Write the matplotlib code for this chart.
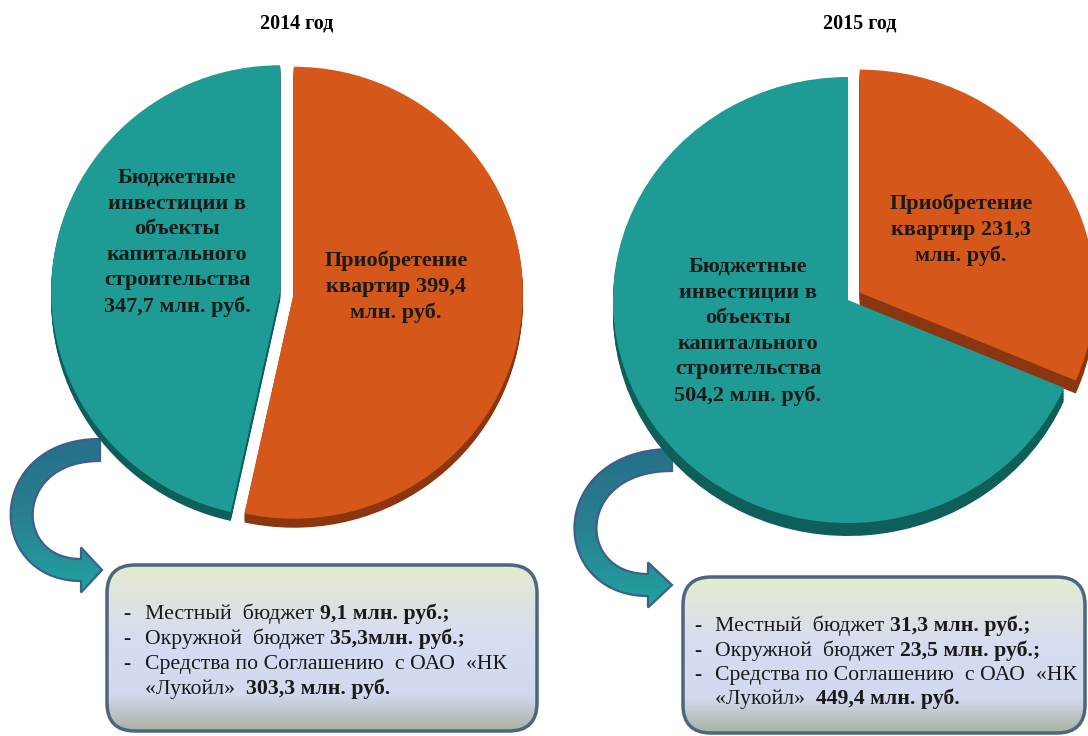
import numpy as np
import matplotlib
matplotlib.use("Agg")
import matplotlib.pyplot as plt
from matplotlib.patches import FancyBboxPatch, Polygon
from matplotlib.colors import LinearSegmentedColormap

# ---------------- data ----------------
years = ["2014 год", "2015 год"]
flats = [399.4, 231.3]            # Приобретение квартир
capital = [347.7, 504.2]          # Бюджетные инвестиции в объекты капитального строительства
local_budget = [9.1, 31.3]
district_budget = [35.3, 23.5]
lukoil_funds = [303.3, 449.4]
district_sep = ["", " "]

def fmt(v):
    return f"{v:.1f}".replace(".", ",")

# ---------------- figure ----------------
W, H = 1088, 736
fig = plt.figure(figsize=(W / 100, H / 100), dpi=100)
fig.patch.set_facecolor("white")
SERIF = ["Liberation Serif", "DejaVu Serif"]

main = fig.add_axes([0, 0, 1, 1])
main.set_xlim(0, W)
main.set_ylim(H, 0)
main.axis("off")

TEAL, TEAL_D = "#1f9b96", "#0e5e5a"
ORANGE, ORANGE_D = "#d5581a", "#8a3610"

def ftext(x, y, s, **kw):
    return fig.text(x / W, 1 - y / H, s, **kw)

# ---------------- pies ----------------
pie_geom = [  # cx, cy, rx, ry, depth, explode
    (287, 292, 229, 226, 9, (0.03, 0.03)),
    (848, 300, 235, 223, 13, (0.06, 0.0)),
]
for i, (cx, cy, rx, ry, depth, expl) in enumerate(pie_geom):
    m = 1.25
    ax = fig.add_axes([(cx - m * rx) / W, (H - cy - m * ry) / H, 2 * m * rx / W, 2 * m * ry / H])
    vals = [flats[i], capital[i]]
    n = 8
    for k in range(n, 0, -1):
        d = depth / ry * k / n
        ax.pie(vals, colors=[ORANGE_D, TEAL_D], startangle=90, counterclock=False,
               explode=expl, center=(0, -d), wedgeprops=dict(linewidth=0))
    ax.pie(vals, colors=[ORANGE, TEAL], startangle=90, counterclock=False,
           explode=expl, wedgeprops=dict(linewidth=0))
    ax.set_xlim(-m, m)
    ax.set_ylim(-m, m)
    ax.set_aspect("auto")
    ax.axis("off")

# titles
ftext(297, 23, years[0], ha="center", va="center", fontsize=14.5, fontweight="bold", family=SERIF)
ftext(860, 23, years[1], ha="center", va="center", fontsize=14.5, fontweight="bold", family=SERIF)

# pie labels
lab_kw = dict(ha="center", va="center", fontsize=16, fontweight="bold", family=SERIF,
              linespacing=1.38, color="#1a1a1a")
ftext(177, 242, "Бюджетные\nинвестиции в\nобъекты\nкапитального\nстроительства\n"
      f"{fmt(capital[0])} млн. руб.", **lab_kw)
ftext(396, 287, f"Приобретение\nквартир {fmt(flats[0])}\nмлн. руб.", **lab_kw)
ftext(748, 331, "Бюджетные\nинвестиции в\nобъекты\nкапитального\nстроительства\n"
      f"{fmt(capital[1])} млн. руб.", **lab_kw)
ftext(961, 230, f"Приобретение\nквартир {fmt(flats[1])}\nмлн. руб.", **lab_kw)

# ---------------- curved arrows ----------------
arrow_cmap = LinearSegmentedColormap.from_list("arr", ["#276f8a", "#2a7f90", "#1fa3a0"])

def curved_arrow(P, width, head_w, head_len):
    P = np.asarray(P, float)
    t = np.linspace(0, 1, 120)[:, None]
    B = ((1 - t) ** 3) * P[0] + 3 * ((1 - t) ** 2) * t * P[1] + 3 * (1 - t) * t ** 2 * P[2] + t ** 3 * P[3]
    dB = 3 * ((1 - t) ** 2) * (P[1] - P[0]) + 6 * (1 - t) * t * (P[2] - P[1]) + 3 * t ** 2 * (P[3] - P[2])
    T = dB / np.linalg.norm(dB, axis=1, keepdims=True)
    N = np.column_stack([-T[:, 1], T[:, 0]])
    left = B + N * width / 2
    right = B - N * width / 2
    tE, nE = T[-1], N[-1]
    base = P[3]
    tip = base + tE * head_len
    hl = base + nE * head_w / 2
    hr = base - nE * head_w / 2
    verts = np.vstack([left, hl, tip, hr, right[::-1]])
    poly = Polygon(verts, closed=True, facecolor="none", edgecolor="#3d5f8a",
                   linewidth=1.6, zorder=4, joinstyle="miter")
    main.add_patch(poly)
    x0, y0 = verts.min(axis=0)
    x1, y1 = verts.max(axis=0)
    g = np.linspace(0, 1, 128).reshape(-1, 1)
    im = main.imshow(g, cmap=arrow_cmap, extent=(x0, x1, y1, y0), origin="upper",
                     aspect="auto", zorder=3, interpolation="bilinear")
    im.set_clip_path(poly)

curved_arrow([(100, 450), (-1, 450), (-1, 570), (81, 570)], 22, 45, 21)
curved_arrow([(672, 460), (561, 460), (561, 585), (648, 585)], 22, 45, 24)

# ---------------- boxes ----------------
cmap = LinearSegmentedColormap.from_list(
    "box", [(0.0, "#e4ebcf"), (0.45, "#d6dcf2"), (0.78, "#d2d8ee"), (1.0, "#a7b3a0")])
grad = np.linspace(0, 1, 256).reshape(-1, 1)

boxes = [(107, 565, 537, 731), (683, 577, 1085, 733)]
for (x0, y0, x1, y1) in boxes:
    patch = FancyBboxPatch((x0, y0), x1 - x0, y1 - y0,
                           boxstyle="round,pad=0,rounding_size=28",
                           facecolor="none", edgecolor="#4e6480", linewidth=2.5, zorder=4)
    main.add_patch(patch)
    im = main.imshow(grad, cmap=cmap, extent=(x0, x1, y1, y0), origin="upper",
                     aspect="auto", zorder=2, interpolation="bilinear")
    im.set_clip_path(patch)

FS = 15.7
txt_kw = dict(fontsize=FS, family=SERIF, color="#1a1a1a", va="baseline", zorder=5)

def box_lines(xd, xt, ys, i):
    lines = [
        ("Местный  бюджет ", f"{fmt(local_budget[i])} млн. руб.;"),
        ("Окружной  бюджет ", f"{fmt(district_budget[i])}{district_sep[i]}млн. руб.;"),
        ("Средства по Соглашению  с ОАО  «НК", None),
        ("«Лукойл»  ", f"{fmt(lukoil_funds[i])} млн. руб."),
    ]
    for j, (reg, bold) in enumerate(lines):
        y = ys[j]
        if j < 3:
            main.text(xd, y, "-", **txt_kw)
        t = main.text(xt, y, reg, **txt_kw)
        if bold:
            main.annotate(bold, xy=(1, 0), xycoords=t, xytext=(0, 0), textcoords="offset points",
                          va="bottom", ha="left", fontsize=FS, family=SERIF, fontweight="bold",
                          color="#1a1a1a", zorder=5)

box_lines(123, 145, [619, 644, 669, 694], 0)
box_lines(694, 715, [631, 656, 680, 704], 1)

main.set_xlim(0, W)
main.set_ylim(H, 0)
fig.savefig("out.png", dpi=100)
